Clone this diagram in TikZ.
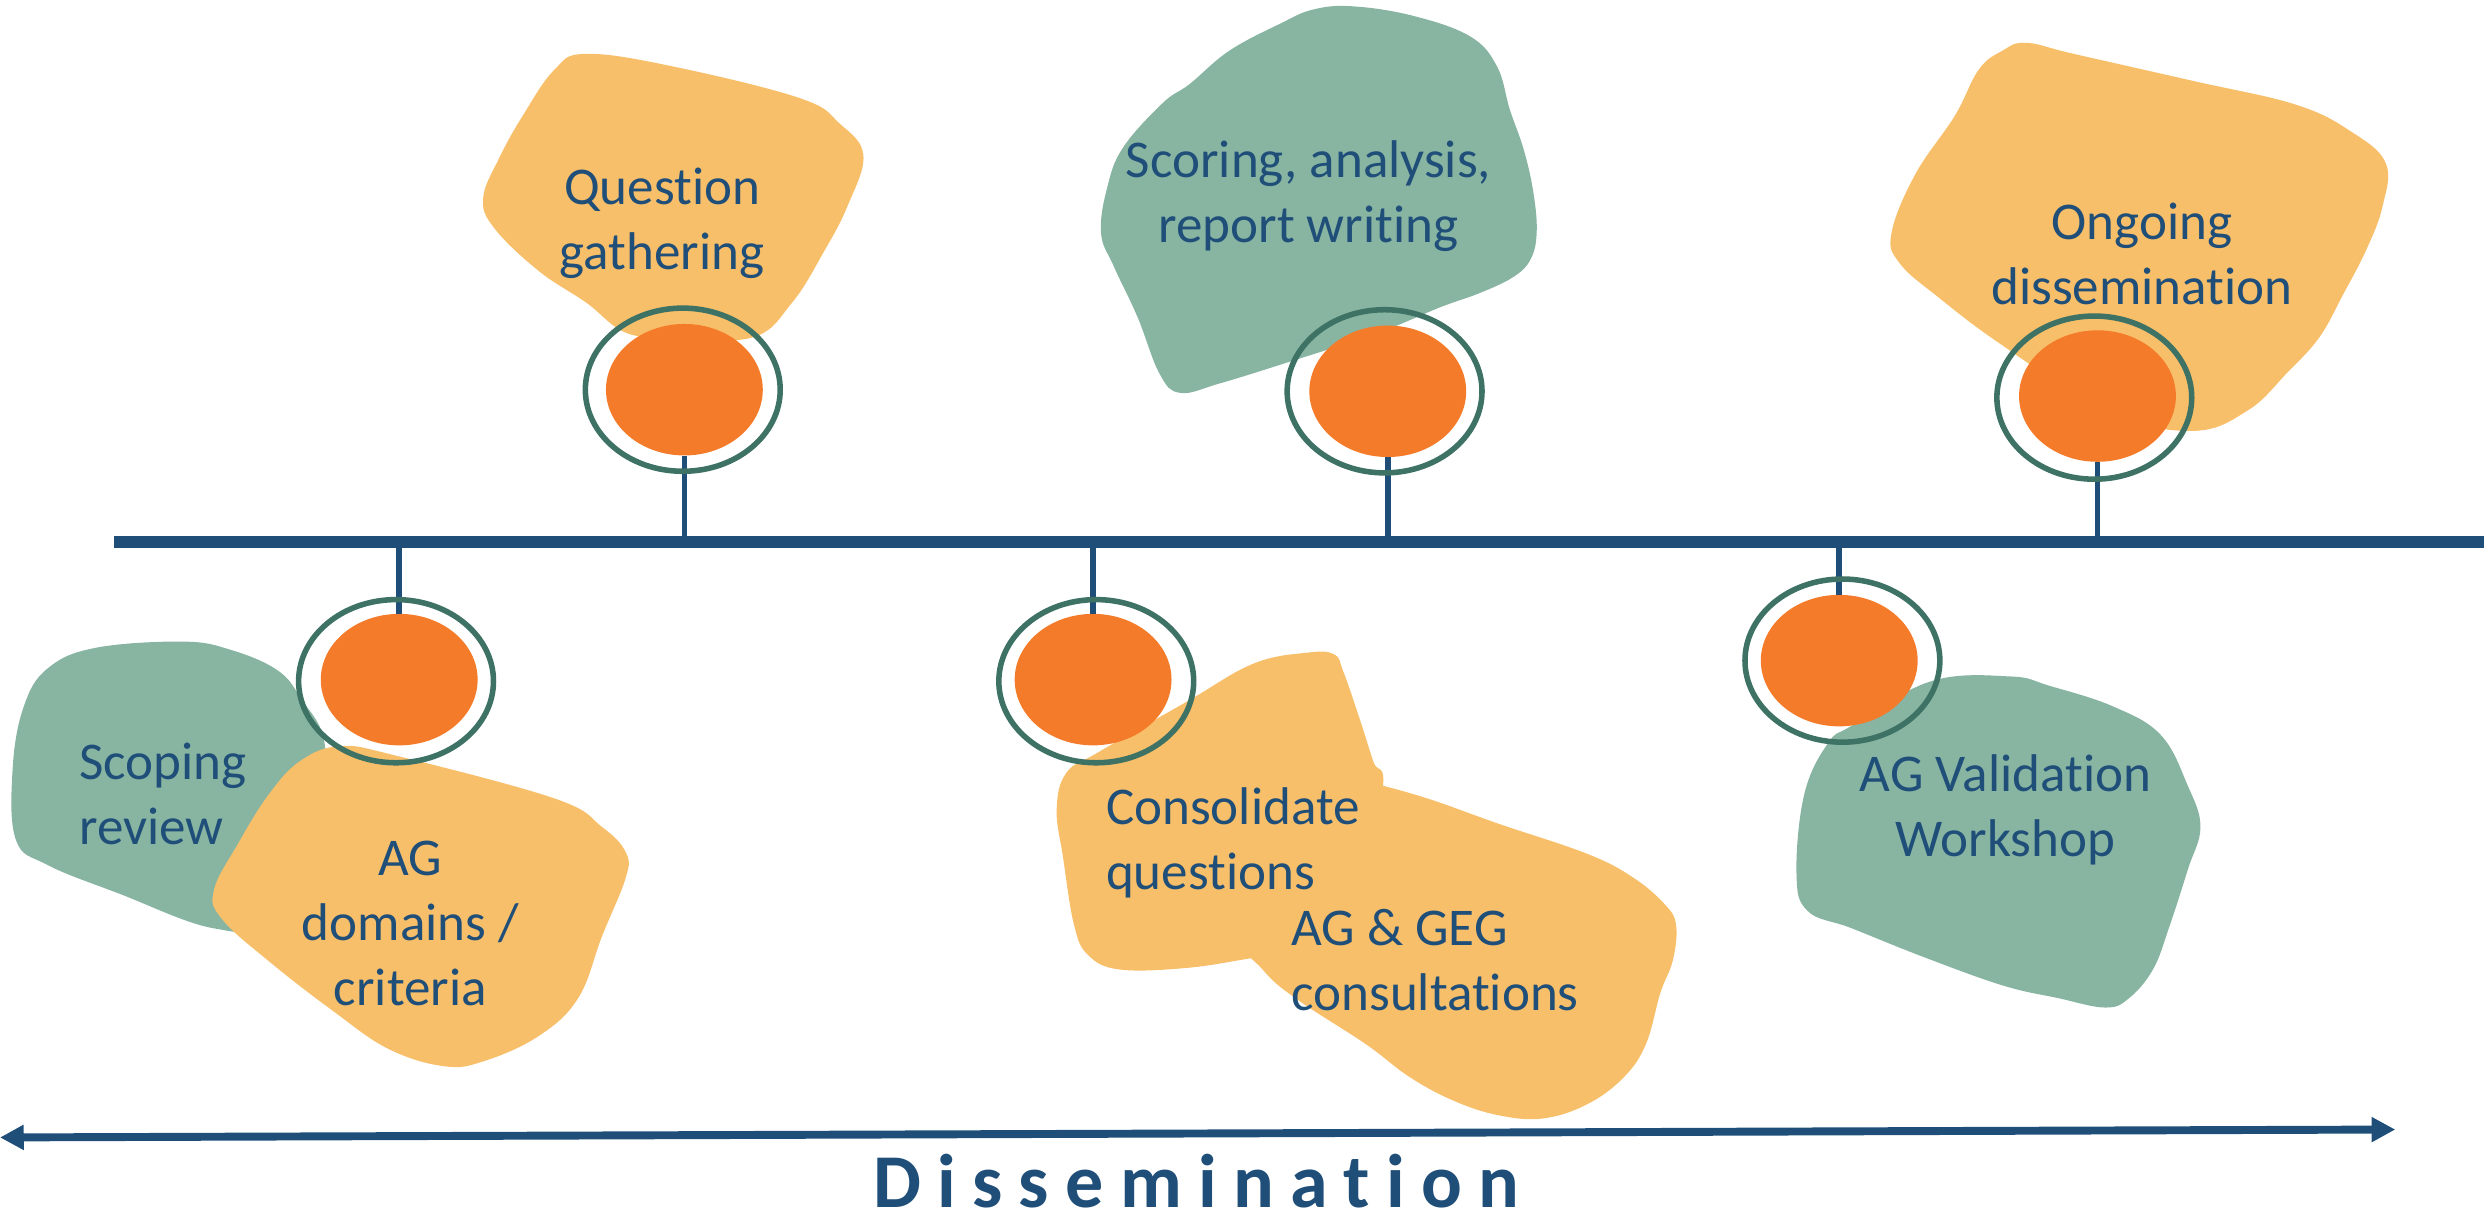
\documentclass[tikz,border=0pt]{standalone}
\usepackage{fontspec}
\setmainfont{Carlito}[Ligatures=NoCommon]
\usetikzlibrary{shapes.geometric,arrows.meta}
\definecolor{navy}{HTML}{1F4E79}
\definecolor{orng}{HTML}{F47B2A}
\definecolor{yel}{HTML}{F8BF6A}
\definecolor{grn}{HTML}{88B4A2}
\definecolor{ringc}{HTML}{3E7264}
\begin{document}
\begin{tikzpicture}[x=1pt,y=-1pt,
  blobY/.style={fill=yel},
  blobG/.style={fill=grn},
  lbl/.style={text=navy, font=\fontsize{33.5}{41}\selectfont, align=center, inner sep=0pt},
  ring/.style={ellipse, draw=ringc, line width=3.5pt, minimum width=123pt, minimum height=103pt, inner sep=0pt},
  dot/.style={ellipse, fill=orng, minimum width=99pt, minimum height=83pt, inner sep=0pt},
  stem/.style={draw=navy, line width=3.5pt},
  axis/.style={draw=navy, line width=7.3pt},
  dissem/.style={draw=navy, line width=5pt, {Triangle[length=15pt,width=15pt]}-{Triangle[length=15pt,width=15pt]}}]
\useasboundingbox (0,0) rectangle (1568,767);

% blobs
\fill[blobY] plot[smooth cycle, tension=0.65] coordinates {(370,34) (425,42) (505,62) (530,78) (545,98) (535,130) (520,159) (500,191) (475,213) (425,213) (395,210) (370,191) (340,171) (312,144) (305,125) (315,100) (330,73) (350,44)};
\fill[blobG] plot[smooth cycle, tension=0.65] coordinates {(854,4) (892,10) (928,23) (945,42) (953,69) (962,95) (968,122) (970,147) (966,164) (955,175) (934,185) (909,194) (870,210) (812,229) (770,242) (745,248) (732,236) (718,200) (703,168) (695,147) (699,118) (709,93) (734,65) (751,53) (776,32) (808,15) (829,6)};
\fill[blobY] plot[smooth cycle, tension=0.65] coordinates {(1279,27) (1309,34) (1384,51) (1449,66) (1484,83) (1506,103) (1504,130) (1494,157) (1479,186) (1464,213) (1444,235) (1419,259) (1384,272) (1330,260) (1264,218) (1224,188) (1199,166) (1194,147) (1209,110) (1234,73) (1249,44) (1264,32)};
\fill[blobG] plot[smooth cycle, tension=0.65] coordinates {(60,409) (115,405) (145,410) (175,423) (190,441) (205,470) (200,520) (170,580) (135,586) (75,564) (30,546) (10,530) (8,485) (15,446) (30,422)};
\fill[blobY] plot[smooth cycle, tension=0.65] coordinates {(215,471) (250,477) (350,504) (380,522) (395,538) (395,554) (380,591) (365,630) (340,654) (305,670) (280,673) (245,662) (210,638) (170,607) (140,580) (135,562) (150,533) (170,501) (190,480)};
\fill[blobY] plot[smooth cycle, tension=0.65] coordinates {(873,496) (904,505) (946,520) (1002,539) (1031,554) (1051,571) (1058,584) (1056,606) (1048,627) (1039,659) (1025,680) (1002,697) (974,706) (946,704) (918,695) (890,680) (862,659) (819,631) (797,612) (774,580) (783,520) (819,492) (848,490)};
\fill[blobY] plot[smooth cycle, tension=0.65] coordinates {(842,413) (848,424) (859,456) (867,481) (873,496) (860,560) (820,600) (789,605) (749,611) (707,612) (687,603) (678,584) (671,541) (667,511) (673,488) (693,475) (749,443) (791,419) (825,412)};
\fill[blobG] plot[smooth cycle, tension=0.65] coordinates {(1219,430) (1269,427) (1294,433) (1334,446) (1364,464) (1381,496) (1389,522) (1381,549) (1369,586) (1359,612) (1344,630) (1329,636) (1299,630) (1264,622) (1214,604) (1169,586) (1141,575) (1134,551) (1139,501) (1154,469) (1169,458)};

% timeline
\coordinate (tlL) at (72,342);
\coordinate (tlR) at (1575,342);
\draw[axis] (tlL) -- (tlR);

% dots
\node[dot] (d1) at (432,246) {};
\node[dot] (d2) at (876,247) {};
\node[dot] (d3) at (1324,250) {};
\node[dot] (d4) at (252,429) {};
\node[dot] (d5) at (690,429) {};
\node[dot] (d6) at (1161,417) {};

% stems
\draw[stem] (d1.south) -- (d1.south |- tlL);
\draw[stem] (d2.south) -- (d2.south |- tlL);
\draw[stem] (d3.south) -- (d3.south |- tlL);
\draw[stem] (d4.north |- tlL) -- (d4.north);
\draw[stem] (d5.north |- tlL) -- (d5.north);
\draw[stem] (d6.north |- tlL) -- (d6.north);

% rings
\node[ring] (r1) at (431,246) {};
\node[ring] (r2) at (874,247) {};
\node[ring] (r3) at (1322,251) {};
\node[ring] (r4) at (250,430) {};
\node[ring] (r5) at (692,430) {};
\node[ring] (r6) at (1163,417) {};

% labels
\node[lbl] (t1) at (418,141) {Question\\gathering};
\node[lbl] (t2) at (826,124) {Scoring, analysis,\\report writing};
\node[lbl] (t3) at (1352,160) {Ongoing\\dissemination};
\node[lbl, align=left, anchor=west] (t4) at (50,501) {Scoping\\review};
\node[lbl] (t5) at (259,583) {AG\\domains /\\criteria};
\node[lbl, align=left, anchor=west] (t6) at (698,532) {Consolidate\\questions};
\node[lbl, align=left, anchor=west] (t7) at (815,606) {AG \& GEG\\consultations};
\node[lbl] (t8) at (1266,511) {AG Validation\\Workshop};

% dissemination arrow
\coordinate (aL) at (0,718);
\coordinate (aR) at (1512,713);
\draw[dissem] (aL) -- (aR);
\node[text=navy, inner sep=0pt, anchor=base, font=\fontsize{48}{56}\selectfont\bfseries\addfontfeature{LetterSpace=21.4}] (dtxt) at (755,762) {Dissemination};
\end{tikzpicture}
\end{document}
